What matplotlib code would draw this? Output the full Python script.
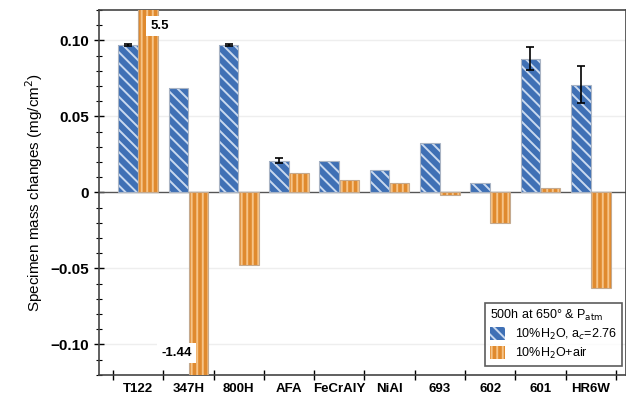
import numpy as np
import matplotlib
matplotlib.use("Agg")
import matplotlib.pyplot as plt
from matplotlib.ticker import MultipleLocator, FixedLocator, NullFormatter

plt.rcParams['font.family'] = ['Liberation Sans', 'DejaVu Sans']
plt.rcParams['hatch.linewidth'] = 1.4

alloys = ["T122", "347H", "800H", "AFA", "FeCrAlY", "NiAl", "693", "602", "601", "HR6W"]
steam_ac = [0.097, 0.069, 0.097, 0.021, 0.021, 0.0145, 0.0327, 0.006, 0.088, 0.071]
steam_ac_err = [0.0004, 0, 0.0004, 0.0015, 0, 0, 0, 0, 0.0075, 0.012]
steam_air = [5.5, -1.44, -0.048, 0.013, 0.0085, 0.006, -0.002, -0.02, 0.003, -0.063]

blue = "#3f70b5"
orange = "#e08a2e"

x = np.arange(len(alloys))
w = 0.39

fig = plt.figure(figsize=(6.26, 4.03), dpi=100)
ax = fig.add_axes([0.158, 0.07, 0.842, 0.905])

# filled bars with light hatch, then a thin grey outline on top
ax.bar(x - 0.2, steam_ac, w, color=blue, edgecolor="#c9d9ef", linewidth=0,
       hatch="\\\\\\", label="10%H$_2$O, a$_c$=2.76", zorder=3)
ax.bar(x - 0.2, steam_ac, w, fill=False, edgecolor="#a9b4c4", linewidth=0.8,
       zorder=3)
ax.bar(x + 0.2, steam_air, w, color=orange, edgecolor="#f6c488", linewidth=0,
       hatch="|||", label="10%H$_2$O+air", zorder=3)
ax.bar(x + 0.2, steam_air, w, fill=False, edgecolor="#c4aa90", linewidth=0.8,
       zorder=3)

err_x = [xi - 0.2 for xi, e in zip(x, steam_ac_err) if e > 0]
err_y = [v for v, e in zip(steam_ac, steam_ac_err) if e > 0]
err_e = [e for e in steam_ac_err if e > 0]
ax.errorbar(err_x, err_y, yerr=err_e, fmt="none", ecolor="black",
            elinewidth=1.2, capsize=3, capthick=1.2, zorder=4)

ax.axhline(0, color="#555555", lw=1.0, zorder=2)
for yv in [0.10, 0.05, -0.05, -0.10]:
    ax.axhline(yv, color="#eeeeee", lw=1.0, zorder=1)

ax.set_xlim(-0.78, 9.7)
ax.set_ylim(-0.12, 0.12)

ax.text(0.43, 0.1095, "5.5", ha="center", va="center", fontsize=9.5,
        fontweight="bold", zorder=5,
        bbox=dict(facecolor="white", edgecolor="none", pad=3))
ax.text(0.76, -0.1055, "-1.44", ha="center", va="center", fontsize=9.5,
        fontweight="bold", zorder=5,
        bbox=dict(facecolor="white", edgecolor="none", pad=3))

ax.yaxis.set_major_locator(FixedLocator([-0.10, -0.05, 0, 0.05, 0.10]))
ax.set_yticklabels(["\u22120.10", "\u22120.05", "0", "0.05", "0.10"],
                   fontsize=11, fontweight="bold")
ax.yaxis.set_minor_locator(MultipleLocator(0.01))
ax.tick_params(axis="y", which="major", direction="inout", length=7, width=1)
ax.tick_params(axis="y", which="minor", direction="inout", length=4, width=0.8)

ax.xaxis.set_major_locator(FixedLocator(np.arange(-0.5, 10, 1)))
ax.xaxis.set_major_formatter(NullFormatter())
ax.xaxis.set_minor_locator(FixedLocator(x))
ax.set_xticklabels(alloys, minor=True, fontsize=9.5, fontweight="bold")
ax.tick_params(axis="x", which="major", direction="inout", length=7, width=1)
ax.tick_params(axis="x", which="minor", length=0, pad=6)

ax.set_ylabel("Specimen mass changes (mg/cm$^2$)", fontsize=11)

for s in ax.spines.values():
    s.set_color("#444444")
    s.set_linewidth(1.2)

leg = ax.legend(loc="lower right", bbox_to_anchor=(1.0, 0.015),
                title="500h at 650\u00b0 & P$_{\\rm atm}$", fontsize=9,
                title_fontsize=9, frameon=True, fancybox=False,
                edgecolor="#333333", borderaxespad=0.3, handlelength=1.2,
                handleheight=1.2, labelspacing=0.3)
leg._legend_box.align = "left"
leg.get_frame().set_linewidth(1.2)
leg.set_zorder(6)

fig.savefig("out.png", dpi=100)
